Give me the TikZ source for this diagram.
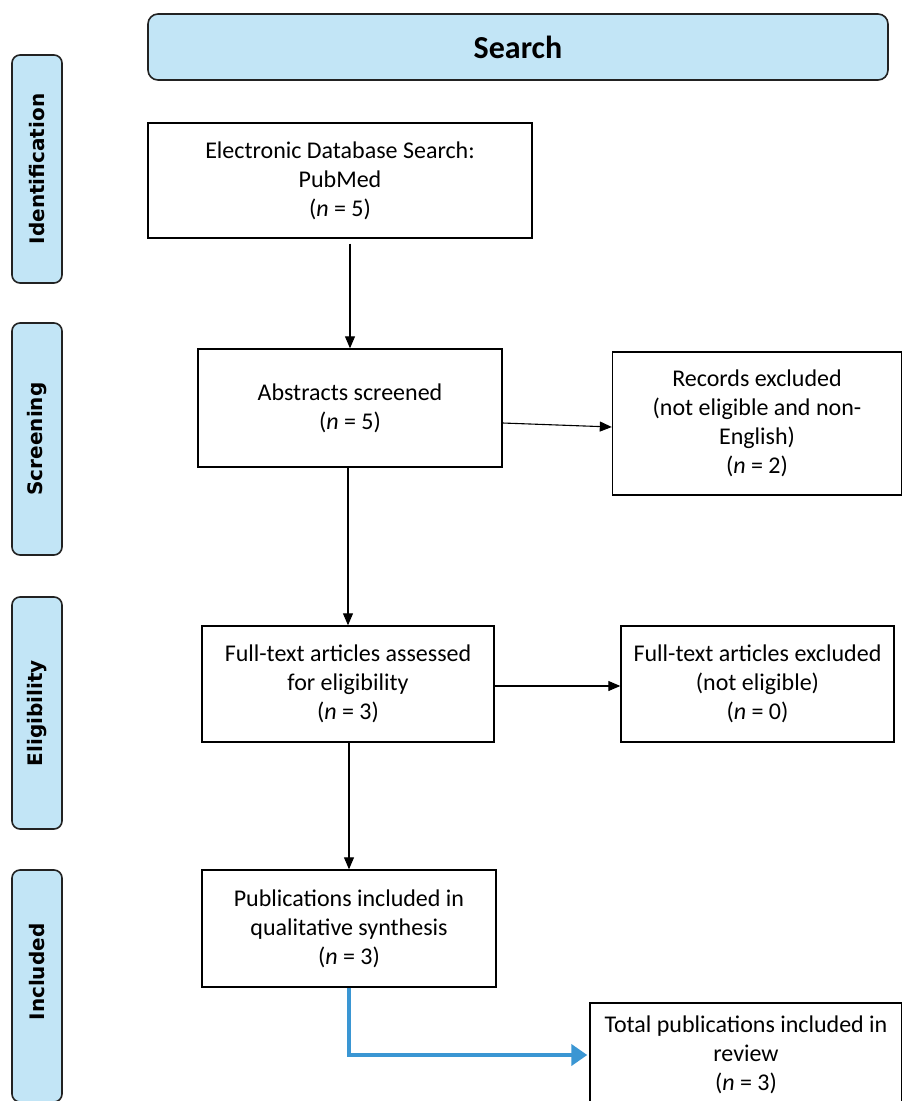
\documentclass[tikz,border=0pt]{standalone}
\usepackage{fontspec}
\setmainfont{Carlito}
\newfontfamily\labfont{DejaVu Sans}
\usetikzlibrary{arrows.meta}
\definecolor{lblue}{HTML}{C2E5F6}
\definecolor{arrblue}{HTML}{3A96D3}
\definecolor{edgegray}{HTML}{222222}
\begin{document}
\begin{tikzpicture}[x=1pt,y=-1pt,
  box/.style={draw=black, line width=1.4pt, fill=white, align=center,
    font=\fontsize{24}{29}\selectfont, inner sep=0pt},
  phase/.style={draw=edgegray, line width=1.6pt, fill=lblue, rounded corners=8pt,
    rotate=90, minimum height=50pt, inner sep=0pt,
    font=\labfont\bfseries\fontsize{20}{22}\selectfont},
  headbox/.style={draw=edgegray, line width=1.6pt, fill=lblue, rounded corners=10pt,
    inner sep=0pt, font=\bfseries\fontsize{32}{36}\selectfont},
  arr/.style={draw=black, line width=1.1pt, -{Triangle[length=12pt,width=10pt]}},
  bluearr/.style={draw=arrblue, line width=4.5pt, -{Triangle[length=16pt,width=21pt]}}
]
\clip (0,0) rectangle (902,1101);
\fill[white] (0,0) rectangle (902,1101);

% header
\node[headbox, minimum width=740pt, minimum height=66pt] (search) at (518,47) {Search};

% phase labels
\node[phase, minimum width=228pt] (idl) at (37,169) {Identification};
\node[phase, minimum width=232pt] (scl) at (37,439) {Screening};
\node[phase, minimum width=232pt] (ell) at (37,713) {Eligibility};
\node[phase, minimum width=232pt] (inl) at (37,986) {\hspace*{28pt}Included};

% boxes
\node[box, minimum width=384pt, minimum height=115pt] (db) at (340,180.5)
  {Electronic Database Search:\\PubMed\\(\textit{n} = 5)};
\node[box, minimum width=304pt, minimum height=118pt] (abs) at (350,408)
  {Abstracts screened\\(\textit{n} = 5)};
\node[box, minimum width=289pt, minimum height=143pt] (rec) at (757,423.5)
  {Records excluded\\(not eligible and non-\\English)\\(\textit{n} = 2)};
\node[box, minimum width=292pt, minimum height=116pt] (ft) at (348,684)
  {Full-text articles assessed\\for eligibility\\(\textit{n} = 3)};
\node[box, minimum width=273pt, minimum height=116pt] (ftx) at (757.5,684)
  {Full-text articles excluded\\(not eligible)\\(\textit{n} = 0)};
\node[box, minimum width=294pt, minimum height=117pt] (pub) at (349,928.5)
  {Publications included in\\qualitative synthesis\\(\textit{n} = 3)};
\node[box, minimum width=312pt, minimum height=104pt] (tot) at (746,1055)
  {Total publications included in\\review\\(\textit{n} = 3)};

% connectors
\draw[arr, shorten <=5pt] (abs.north |- db.south) -- (abs.north);
\draw[arr] ([yshift=-15pt]abs.east) -- ([yshift=-3.5pt]rec.west);
\draw[arr] (ft.north |- abs.south) -- (ft.north);
\draw[arr] ([yshift=-2pt]ft.east) -- ([yshift=-2pt]ftx.west);
\draw[arr] (pub.north |- ft.south) -- (pub.north);
\draw[bluearr] (pub.south) |- ([xshift=-2pt]tot.west);
\end{tikzpicture}
\end{document}
